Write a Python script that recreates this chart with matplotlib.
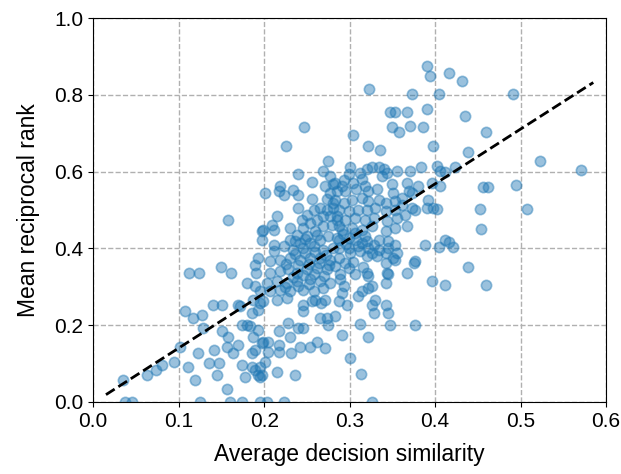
import numpy as np
import matplotlib
matplotlib.use("Agg")
import matplotlib.pyplot as plt

plt.rcParams["font.family"] = ["Liberation Sans", "DejaVu Sans"]

# points (average decision similarity, mean reciprocal rank)
pts_low_left = [
    (0.197, 0.445), (0.197, 0.423), (0.149, 0.352), (0.112, 0.336), (0.124, 0.336),
    (0.161, 0.336), (0.193, 0.375), (0.189, 0.358), (0.191, 0.336), (0.180, 0.310),
    (0.189, 0.303), (0.140, 0.253), (0.151, 0.253), (0.170, 0.253), (0.108, 0.238),
    (0.117, 0.219), (0.127, 0.227), (0.129, 0.192), (0.151, 0.184), (0.158, 0.170),
    (0.174, 0.201), (0.180, 0.201), (0.184, 0.197), (0.186, 0.232), (0.193, 0.240),
    (0.195, 0.258), (0.187, 0.170), (0.193, 0.188), (0.197, 0.153), (0.102, 0.144),
    (0.123, 0.127), (0.141, 0.136), (0.156, 0.144), (0.164, 0.127), (0.170, 0.149),
    (0.094, 0.105), (0.080, 0.097), (0.111, 0.092), (0.135, 0.101), (0.147, 0.101),
    (0.174, 0.097), (0.186, 0.127), (0.186, 0.092), (0.195, 0.092), (0.197, 0.070),
    (0.063, 0.070), (0.073, 0.084), (0.035, 0.057), (0.119, 0.057), (0.145, 0.069),
    (0.178, 0.066), (0.193, 0.069), (0.156, 0.033), (0.037, 0.0), (0.045, 0.0),
    (0.125, 0.0), (0.160, 0.0), (0.174, 0.0), (0.195, 0.0),
    (0.158, 0.473), (0.201, 0.543), (0.199, 0.449),
]

pts_upper_mid = [
    (0.275, 0.627), (0.240, 0.595), (0.269, 0.601), (0.277, 0.588), (0.256, 0.573),
    (0.219, 0.562), (0.217, 0.549), (0.223, 0.540), (0.234, 0.552), (0.240, 0.540),
    (0.271, 0.562), (0.281, 0.567), (0.277, 0.545), (0.285, 0.549), (0.256, 0.529),
    (0.273, 0.529), (0.281, 0.519), (0.240, 0.506), (0.215, 0.484), (0.209, 0.462),
    (0.211, 0.449), (0.230, 0.454), (0.244, 0.475), (0.250, 0.488), (0.258, 0.501),
    (0.265, 0.506), (0.273, 0.501), (0.281, 0.506), (0.246, 0.454), (0.254, 0.467),
    (0.262, 0.475), (0.269, 0.484), (0.277, 0.484), (0.285, 0.484), (0.238, 0.436),
    (0.250, 0.432), (0.260, 0.445), (0.269, 0.458), (0.279, 0.462), (0.287, 0.458),
    (0.230, 0.423), (0.242, 0.414), (0.254, 0.414), (0.265, 0.423), (0.275, 0.432),
    (0.285, 0.427), (0.211, 0.410), (0.223, 0.407),
]

pts_upper_right = [
    (0.283, 0.571), (0.291, 0.562), (0.295, 0.549), (0.304, 0.571), (0.308, 0.554),
    (0.318, 0.562), (0.322, 0.549), (0.332, 0.554), (0.349, 0.567), (0.351, 0.545),
    (0.367, 0.571), (0.369, 0.549), (0.380, 0.562), (0.396, 0.571), (0.283, 0.527),
    (0.293, 0.519), (0.303, 0.527), (0.314, 0.532), (0.322, 0.523), (0.334, 0.527),
    (0.342, 0.519), (0.353, 0.523), (0.361, 0.514), (0.373, 0.506), (0.392, 0.527),
    (0.398, 0.506), (0.287, 0.501), (0.299, 0.497), (0.310, 0.501), (0.320, 0.501),
    (0.330, 0.506), (0.342, 0.497), (0.353, 0.501), (0.365, 0.488), (0.377, 0.501),
    (0.285, 0.475), (0.295, 0.475), (0.306, 0.480), (0.318, 0.475), (0.328, 0.480),
    (0.344, 0.471), (0.355, 0.480), (0.367, 0.458), (0.291, 0.449), (0.303, 0.454),
    (0.314, 0.449), (0.326, 0.458), (0.342, 0.445), (0.353, 0.454), (0.287, 0.423),
    (0.299, 0.427), (0.308, 0.423), (0.320, 0.419), (0.334, 0.423), (0.345, 0.419),
    (0.353, 0.410), (0.388, 0.410),
    (0.373, 0.545), (0.361, 0.532), (0.390, 0.506), (0.377, 0.366), (0.353, 0.371),
]

pts_top = [
    (0.390, 0.875), (0.394, 0.849), (0.323, 0.815), (0.373, 0.802), (0.347, 0.754),
    (0.353, 0.754), (0.367, 0.754), (0.390, 0.762), (0.247, 0.715), (0.349, 0.715),
    (0.358, 0.703), (0.371, 0.719), (0.386, 0.715), (0.225, 0.667), (0.304, 0.695),
    (0.322, 0.667), (0.336, 0.656), (0.398, 0.667), (0.301, 0.613), (0.299, 0.593),
    (0.293, 0.578), (0.312, 0.597), (0.320, 0.606), (0.326, 0.613), (0.334, 0.613),
    (0.340, 0.606), (0.344, 0.597), (0.338, 0.588), (0.355, 0.601), (0.371, 0.601),
    (0.384, 0.612), (0.314, 0.580),
]

pts_far_right = [
    (0.416, 0.858), (0.431, 0.836), (0.404, 0.802), (0.491, 0.802), (0.435, 0.745),
    (0.460, 0.702), (0.439, 0.651), (0.523, 0.627), (0.571, 0.603), (0.402, 0.614),
    (0.406, 0.601), (0.412, 0.599), (0.423, 0.613), (0.406, 0.562), (0.456, 0.560),
    (0.462, 0.560), (0.495, 0.565), (0.402, 0.503), (0.452, 0.503), (0.508, 0.503),
    (0.454, 0.451), (0.412, 0.421), (0.416, 0.416), (0.404, 0.404), (0.421, 0.404),
    (0.439, 0.352), (0.396, 0.314), (0.412, 0.304), (0.460, 0.304),
]

pts_lower_mid = [
    (0.367, 0.336), (0.345, 0.334), (0.322, 0.327), (0.326, 0.301), (0.314, 0.288),
    (0.310, 0.275), (0.330, 0.266), (0.326, 0.253), (0.342, 0.253), (0.328, 0.232),
    (0.345, 0.232), (0.347, 0.201), (0.377, 0.201), (0.312, 0.203), (0.322, 0.170),
    (0.301, 0.114), (0.313, 0.073), (0.326, 0.0), (0.291, 0.175), (0.283, 0.223),
    (0.273, 0.219), (0.275, 0.201), (0.265, 0.219), (0.267, 0.258), (0.271, 0.266),
    (0.287, 0.262), (0.297, 0.253), (0.291, 0.284), (0.293, 0.301), (0.289, 0.319),
    (0.277, 0.310), (0.260, 0.266), (0.246, 0.253), (0.246, 0.236), (0.256, 0.262),
    (0.228, 0.205), (0.240, 0.192), (0.246, 0.192), (0.230, 0.170), (0.217, 0.184),
    (0.205, 0.157), (0.199, 0.157), (0.262, 0.157), (0.254, 0.144), (0.242, 0.144),
    (0.232, 0.127), (0.217, 0.149), (0.217, 0.131), (0.205, 0.131), (0.271, 0.140),
    (0.201, 0.105), (0.215, 0.077), (0.236, 0.070), (0.195, 0.066), (0.189, 0.084),
    (0.203, 0.0), (0.223, 0.0), (0.189, 0.136),
]

pts_center = [
    (0.287, 0.401), (0.299, 0.401), (0.310, 0.405), (0.322, 0.401), (0.334, 0.397),
    (0.345, 0.401), (0.355, 0.388), (0.287, 0.375), (0.295, 0.362), (0.299, 0.349),
    (0.320, 0.379), (0.332, 0.379), (0.342, 0.388), (0.351, 0.375), (0.375, 0.362),
    (0.342, 0.362), (0.344, 0.336), (0.342, 0.310), (0.320, 0.336), (0.306, 0.332),
    (0.289, 0.332), (0.322, 0.297),
    (0.211, 0.392), (0.234, 0.397), (0.246, 0.401), (0.258, 0.405), (0.269, 0.397),
    (0.281, 0.401), (0.207, 0.366), (0.219, 0.371), (0.230, 0.375), (0.242, 0.371),
    (0.254, 0.375), (0.265, 0.375), (0.277, 0.371), (0.207, 0.336), (0.219, 0.340),
    (0.228, 0.345), (0.238, 0.336), (0.250, 0.345), (0.262, 0.349), (0.273, 0.345),
    (0.283, 0.353), (0.203, 0.310), (0.215, 0.314), (0.227, 0.310), (0.238, 0.314),
    (0.254, 0.319), (0.265, 0.314), (0.195, 0.288), (0.207, 0.288), (0.219, 0.292),
    (0.230, 0.288), (0.246, 0.292), (0.258, 0.288), (0.269, 0.297), (0.187, 0.266),
    (0.199, 0.262), (0.215, 0.266), (0.227, 0.271), (0.172, 0.249),
]

# extra overlapping points in the solid core of the cloud
pts_core = [
    (0.236, 0.386), (0.248, 0.388), (0.260, 0.390), (0.272, 0.384), (0.226, 0.360),
    (0.240, 0.356), (0.252, 0.360), (0.264, 0.362), (0.276, 0.358), (0.234, 0.326),
    (0.246, 0.330), (0.258, 0.334), (0.270, 0.328), (0.224, 0.300), (0.240, 0.302),
    (0.252, 0.306), (0.236, 0.420), (0.248, 0.424), (0.262, 0.436), (0.292, 0.438),
    (0.306, 0.440), (0.318, 0.432), (0.296, 0.412), (0.314, 0.414), (0.328, 0.410),
    (0.300, 0.388), (0.312, 0.392), (0.326, 0.388), (0.304, 0.364), (0.316, 0.352),
]

# dashed trend line endpoints
line_x = [0.015, 0.585]
line_y = [0.019, 0.832]

groups = [pts_low_left, pts_upper_mid, pts_upper_right, pts_top,
          pts_far_right, pts_lower_mid, pts_center, pts_core]
pts = np.array([p for g in groups for p in g])

fig = plt.figure(figsize=(6.21, 4.74), dpi=100)
ax = fig.add_axes([0.150, 0.152, 0.826, 0.810])
ax.scatter(pts[:, 0], pts[:, 1], s=55, color="tab:blue", alpha=0.45,
           linewidths=1.2, zorder=2)
ax.plot(line_x, line_y, "k--", lw=2, zorder=3)
ax.set_xlim(0.0, 0.6)
ax.set_ylim(0.0, 1.0)
ax.set_xticks(np.arange(0, 0.61, 0.1))
ax.set_yticks(np.arange(0, 1.01, 0.2))
ax.grid(True, linestyle="--", color="#b0b0b0", linewidth=1)
ax.set_axisbelow(True)
ax.tick_params(labelsize=15)
ax.set_xlabel("Average decision similarity", fontsize=16.5, labelpad=9)
ax.set_ylabel("Mean reciprocal rank", fontsize=16.5, labelpad=10)
fig.savefig("out.png", dpi=100)
